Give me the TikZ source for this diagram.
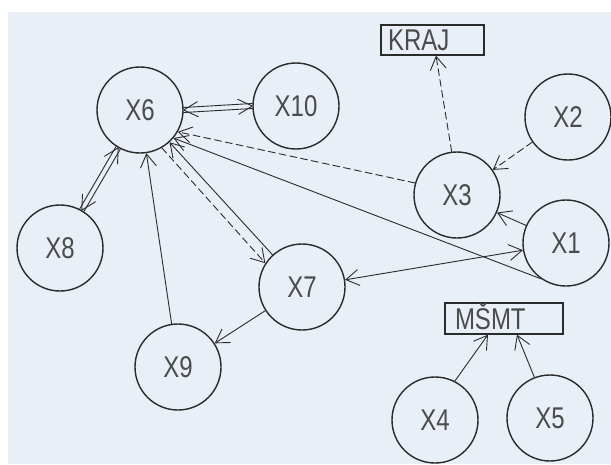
\documentclass[tikz,border=0pt]{standalone}
\usepackage{fontspec}
\setmainfont{Liberation Sans}[FakeStretch=0.8]
\usetikzlibrary{arrows.meta,calc}
\definecolor{paper}{HTML}{E9EFF6}
\definecolor{ink}{HTML}{2B2B2B}
\newcommand\mybarbs[2]{\draw[conn] ($(#1)!16pt!28:(#2)$) -- (#1) -- ($(#1)!16pt!-28:(#2)$);}
\newcommand\mydouble[2]{%
  \draw[conn] ($(#1)!2.5pt!90:(#2)$) -- ($(#2)!2.5pt!-90:(#1)$);
  \draw[conn] ($(#1)!2.5pt!-90:(#2)$) -- ($(#2)!2.5pt!90:(#1)$);
  \mybarbs{#1}{#2}\mybarbs{#2}{#1}}
\tikzset{
  state/.style={circle, draw=ink, line width=1.4pt, minimum size=86pt, inner sep=0pt,
    text=ink!85, font=\fontsize{30}{36}\selectfont},
  lblbox/.style={rectangle, draw=ink, line width=1.3pt, inner ysep=0pt, align=left,
    text=ink!85, font=\fontsize{30}{36}\selectfont, text height=21.5pt, text depth=0pt},
  conn/.style={draw=ink, line width=0.9pt, line cap=round, line join=round},
  dashln/.style={dash pattern=on 7pt off 4pt},
  >={Straight Barb[length=13pt,width=16pt,line width=0.9pt]}
}
\begin{document}
\begin{tikzpicture}[x=1pt,y=-1pt]
\useasboundingbox (0,0) rectangle (611,464);
\fill[white] (0,0) rectangle (611,464);
\fill[paper] (8,12) rectangle (611,464);

\node[state] (X6) at (140,110) {X6};
\node[state] (X10) at (296,106) {X10};
\node[state] (X8) at (60,248) {X8};
\node[state] (X9) at (178,367) {X9};
\node[state] (X7) at (302,287) {X7};
\node[state] (X3) at (457,195) {X3};
\node[state] (X2) at (568,117) {X2};
\node[state] (X1) at (566,243) {X1};
\node[state] (X4) at (435,420) {X4};
\node[state] (X5) at (550,418) {X5};
\node[lblbox, text width=89pt, inner xsep=7pt, minimum height=30pt] (KRAJ) at (432.5,40) {KRAJ};
\node[lblbox, text width=98pt, inner xsep=10pt, minimum height=31pt] (MSMT) at (504,318.5) {MŠMT};

% double arrows
\mydouble{X6.east}{X10.west}
\mydouble{X6.-120}{X8.60}

% dashed
\draw[conn, dashln, ->] (X3.164) -- (X6.-30);
\draw[conn, dashln, ->] (X3.97) -- ([xshift=3.5pt]KRAJ.south);
\draw[conn, dashln, ->] (X2) -- (X3);
\draw[conn, dashln, ->] (X6.-60) -- (X7.147);

% solid
\draw[conn, ->] (X1) -- (X3);
\draw[conn, ->] (X1.235) -- (X6.-40);
\draw[conn, <->] (X7) -- (X1);
\draw[conn, ->] (X7) -- (X6);
\draw[conn, ->] (X9) -- (X6);
\draw[conn, ->] (X7) -- (X9);
\draw[conn, ->] (X4.63) -- ([xshift=-16pt]MSMT.south);
\draw[conn, ->] (X5.111) -- ([xshift=13pt]MSMT.south);
\end{tikzpicture}
\end{document}
